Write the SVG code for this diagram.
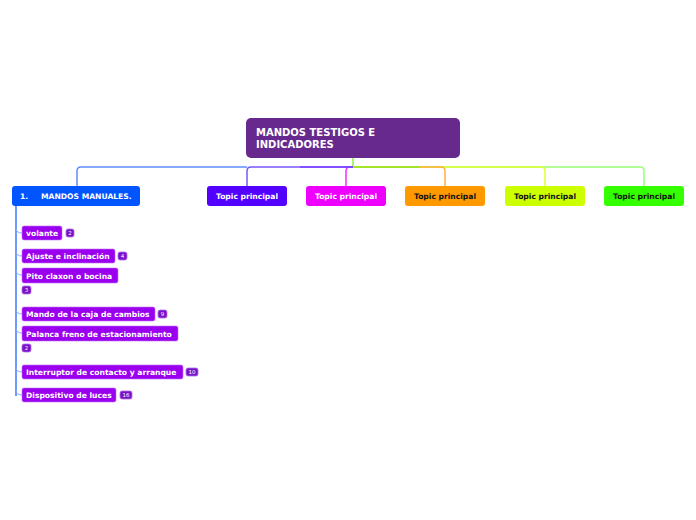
<svg xmlns="http://www.w3.org/2000/svg" width="696" height="520" viewBox="0 0 696 520">
<style>
text{font-family:"DejaVu Sans","Verdana",sans-serif;font-weight:bold}
.t{font-size:7.6px}
.w{fill:#ffffff}
.k{fill:#111111}
.child rect.n{fill:#9a00ee;stroke:#c070ff;stroke-width:0.6}
.badge rect{fill:#7a10c8;stroke:#b070e8;stroke-width:0.8}
.badge text{font-size:5.5px;fill:#ffffff;font-weight:normal}
.c{fill:none;stroke-width:1.5}
.cc{fill:none;stroke:#8aa8ff;stroke-width:1}
</style>
<rect width="696" height="520" fill="#ffffff"/>
<g id="connectors">
<path class="c" stroke="#8cf040" d="M353,158 V167"/>
<path class="c" stroke="#99ff77" d="M353,167 H640 Q644,167 644,171 V186"/>
<path class="c" stroke="#ddff33" d="M353,167 H541 Q545,167 545,171 V186"/>
<path class="c" stroke="#ffb040" d="M353,167 H441 Q445,167 445,171 V186"/>
<path class="c" stroke="#88ee22" d="M353,167 H420"/>
<path class="c" stroke="#f030ff" d="M353,167 H350 Q346,167 346,171 V186"/>
<path class="c" stroke="#7a55ff" d="M353,167 H251 Q247,167 247,171 V186"/>
<path class="c" stroke="#5f8cff" d="M247,167 H81 Q77,167 77,171 V186"/>
<path class="c" stroke="#7a40ff" d="M353,167 H300"/>
<path class="c" stroke="#3a78ff" d="M16,206 V396 Q16,395 16,396"/>
<path class="cc" d="M16,228 Q16,233 22,233"/>
<path class="cc" d="M16,251 Q16,256 22,256"/>
<path class="cc" d="M16,270 Q16,275 22,275"/>
<path class="cc" d="M16,309 Q16,314 22,314"/>
<path class="cc" d="M16,328 Q16,333 22,333"/>
<path class="cc" d="M16,367 Q16,372 22,372"/>
<path class="cc" d="M16,390 Q16,395 22,395"/>
</g>
<g id="main">
<rect x="246" y="118" width="214" height="40" rx="5" fill="#67298e"/>
<text x="256" y="136" font-size="10" class="w">MANDOS TESTIGOS E</text>
<text x="256" y="148" font-size="10" class="w">INDICADORES</text>
</g>
<g id="n1">
<rect x="12" y="186" width="128" height="20" rx="3" fill="#0055ff"/>
<text x="20" y="199" class="t w">1.</text>
<text x="41" y="199" class="t w">MANDOS MANUALES.</text>
</g>
<g id="n2">
<rect x="207" y="186" width="80" height="20" rx="3" fill="#5200ff"/>
<text x="247" y="199" class="t w" text-anchor="middle">Topic principal</text>
</g>
<g id="n3">
<rect x="306" y="186" width="80" height="20" rx="3" fill="#ee00ff"/>
<text x="346" y="199" class="t w" text-anchor="middle">Topic principal</text>
</g>
<g id="n4">
<rect x="405" y="186" width="80" height="20" rx="3" fill="#ff9900"/>
<text x="445" y="199" class="t k" text-anchor="middle">Topic principal</text>
</g>
<g id="n5">
<rect x="505" y="186" width="80" height="20" rx="3" fill="#ccff00"/>
<text x="545" y="199" class="t k" text-anchor="middle">Topic principal</text>
</g>
<g id="n6">
<rect x="604" y="186" width="80" height="20" rx="3" fill="#33ff00"/>
<text x="644" y="199" class="t k" text-anchor="middle">Topic principal</text>
</g>
<g id="c1" class="child">
<rect class="n" x="22" y="226" width="40" height="14" rx="2"/>
<text x="26" y="236" class="t w">volante</text>
<g class="badge"><rect x="66" y="229" width="8" height="8" rx="2"/><text x="70" y="235" text-anchor="middle">2</text></g>
</g>
<g id="c2" class="child">
<rect class="n" x="22" y="249" width="93" height="14" rx="2"/>
<text x="26" y="259" class="t w">Ajuste e inclinación</text>
<g class="badge"><rect x="118" y="252" width="9" height="8" rx="2"/><text x="122.5" y="258" text-anchor="middle">4</text></g>
</g>
<g id="c3" class="child">
<rect class="n" x="22" y="268" width="96" height="15" rx="2"/>
<text x="26" y="279" class="t w">Pito claxon o bocina</text>
<g class="badge"><rect x="22" y="286" width="9" height="8" rx="2"/><text x="26.5" y="292" text-anchor="middle">3</text></g>
</g>
<g id="c4" class="child">
<rect class="n" x="22" y="307" width="133" height="14" rx="2"/>
<text x="26" y="317" class="t w">Mando de la caja de cambios</text>
<g class="badge"><rect x="158" y="310" width="9" height="8" rx="2"/><text x="162.5" y="316" text-anchor="middle">9</text></g>
</g>
<g id="c5" class="child">
<rect class="n" x="22" y="326" width="156" height="15" rx="2"/>
<text x="26" y="337" class="t w">Palanca freno de estacionamiento</text>
<g class="badge"><rect x="22" y="344" width="9" height="8" rx="2"/><text x="26.5" y="350" text-anchor="middle">2</text></g>
</g>
<g id="c6" class="child">
<rect class="n" x="22" y="365" width="161" height="14" rx="2"/>
<text x="26" y="375" class="t w">Interruptor de contacto y arranque</text>
<g class="badge"><rect x="186" y="368" width="12" height="8" rx="2"/><text x="192" y="374" text-anchor="middle">10</text></g>
</g>
<g id="c7" class="child">
<rect class="n" x="22" y="388" width="94" height="14" rx="2"/>
<text x="26" y="398" class="t w">Dispositivo de luces</text>
<g class="badge"><rect x="120" y="391" width="12" height="8" rx="2"/><text x="126" y="397" text-anchor="middle">16</text></g>
</g>
</svg>
